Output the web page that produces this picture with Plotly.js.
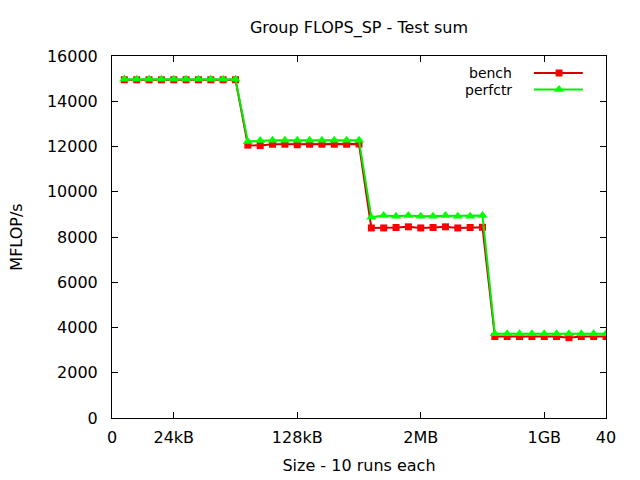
<!DOCTYPE html>
<html>
<head>
<meta charset="utf-8">
<script src="https://cdn.plot.ly/plotly-3.0.1.min.js"></script>
<style>html,body{margin:0;padding:0;background:#fff;}#chart{width:640px;height:480px;}</style>
</head>
<body>
<div id="chart"></div>
<script>
// Data
const runIndex = [1,2,3,4,5,6,7,8,9,10,11,12,13,14,15,16,17,18,19,20,21,22,23,24,25,26,27,28,29,30,31,32,33,34,35,36,37,38,39,40];
const benchValues = [
  14950,14950,14950,14950,14950,14950,14950,14950,14950,14950,
  12060,12040,12100,12100,12080,12100,12100,12100,12100,12110,
  8400,8400,8420,8450,8400,8420,8450,8400,8420,8430,
  3600,3600,3600,3600,3600,3600,3550,3600,3600,3600
];
const perfctrValues = [
  14970,14970,14970,14970,14970,14970,14970,14970,14970,14970,
  12220,12260,12280,12280,12280,12280,12280,12280,12280,12280,
  8870,8950,8920,8950,8920,8920,8950,8920,8920,8950,
  3720,3720,3720,3720,3720,3720,3720,3720,3720,3720
];
const xTickVals = [0,5,15,25,35,40];
const xTickText = ["0","24kB","128kB","2MB","1GB","40"];
const seriesNames = ["bench","perfctr"];

const FONT = "DejaVu Sans";
const FS = 16;
const benchLine = "#d40000", benchMarker = "#ff0000";
const perfLine = "#00ee00", perfMarker = "#00ff00";

const legY1 = (418 - 73) / 362, legY2 = (418 - 89.5) / 362;

const traces = [
  {x: runIndex, y: benchValues, name: seriesNames[0], type: "scatter", mode: "lines+markers",
   line: {color: benchLine, width: 2}, marker: {symbol: "square", size: 7, color: benchMarker},
   showlegend: false},
  {x: runIndex, y: perfctrValues, name: seriesNames[1], type: "scatter", mode: "lines+markers",
   line: {color: perfLine, width: 2}, marker: {symbol: "triangle-up", size: 9, color: perfMarker},
   showlegend: false},
  // legend samples (gnuplot style: text then line with marker)
  {x: [0.854, 0.905, 0.953], y: [legY1, legY1, legY1], xaxis: "x2", yaxis: "y2", type: "scatter",
   mode: "lines+markers", line: {color: benchLine, width: 2},
   marker: {symbol: "square", size: 7, color: benchMarker}, showlegend: false, hoverinfo: "skip",
   selectedpoints: [1], selected: {marker: {opacity: 1}}, unselected: {marker: {opacity: 0}}},
  {x: [0.854, 0.905, 0.953], y: [legY2, legY2, legY2], xaxis: "x2", yaxis: "y2", type: "scatter",
   mode: "lines+markers", line: {color: perfLine, width: 2},
   marker: {symbol: "triangle-up", size: 9, color: perfMarker}, showlegend: false, hoverinfo: "skip",
   selectedpoints: [1], selected: {marker: {opacity: 1}}, unselected: {marker: {opacity: 0}}}
];

const layout = {
  width: 640, height: 480,
  paper_bgcolor: "#ffffff", plot_bgcolor: "#ffffff",
  margin: {l: 112, r: 34, t: 56, b: 62},
  font: {family: FONT, size: FS, color: "#000000"},
  title: {text: "Group FLOPS_SP - Test sum", x: 0.5, xref: "paper", xanchor: "center",
          y: 1 - 27 / 480, yref: "container", yanchor: "middle",
          font: {family: FONT, size: FS, color: "#000000"}},
  showlegend: false,
  xaxis: {
    range: [0, 40], tickmode: "array", tickvals: xTickVals, ticktext: xTickText,
    ticks: "inside", ticklen: 6, tickcolor: "#000", showline: true, linecolor: "#000", linewidth: 1,
    mirror: "ticks", showgrid: false, zeroline: false, ticklabelstandoff: 5,
    tickfont: {family: FONT, size: FS, color: "#000"},
    title: {text: "Size - 10 runs each", standoff: 13, font: {family: FONT, size: FS, color: "#000"}},
    automargin: false
  },
  yaxis: {
    range: [0, 16000], tickmode: "linear", tick0: 0, dtick: 2000, tickformat: "d", exponentformat: "none",
    separatethousands: false,
    ticks: "inside", ticklen: 6, tickcolor: "#000", showline: true, linecolor: "#000", linewidth: 1,
    mirror: "ticks", showgrid: false, zeroline: false, ticklabelstandoff: 10,
    tickfont: {family: FONT, size: FS, color: "#000"},
    title: {text: "MFLOP/s", standoff: 20, font: {family: FONT, size: FS, color: "#000"}},
    automargin: false
  },
  xaxis2: {overlaying: "x", range: [0, 1], visible: false, fixedrange: true},
  yaxis2: {overlaying: "y", range: [0, 1], visible: false, fixedrange: true},
  annotations: [
    {text: seriesNames[0], xref: "paper", yref: "paper", x: 0.812, y: legY1, xanchor: "right", yanchor: "middle",
     showarrow: false, borderpad: 0, font: {family: FONT, size: 14, color: "#000"}},
    {text: seriesNames[1], xref: "paper", yref: "paper", x: 0.812, y: legY2, xanchor: "right", yanchor: "middle",
     showarrow: false, borderpad: 0, font: {family: FONT, size: 14, color: "#000"}}
  ]
};

Plotly.newPlot("chart", traces, layout, {staticPlot: true, displayModeBar: false});
</script>
</body>
</html>
